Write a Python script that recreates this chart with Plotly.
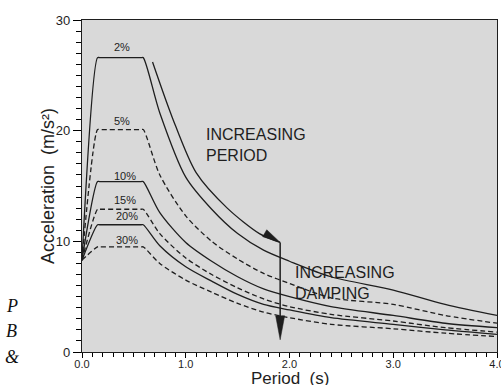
import math
import plotly.graph_objects as go

# ---------------- data ----------------
period_s = [0.0, 0.15, 0.17, 0.57, 0.59, 0.75, 1.0, 1.25, 1.5, 1.75, 2.0, 2.4, 3.0, 3.5, 4.0]
acc_2pct = [8.3, 26.6, 26.6, 26.6, 26.6, 21.6, 15.8, 12.9, 10.7, 9.2, 8.2, 6.8, 5.6, 4.3, 3.3]
acc_5pct = [8.3, 20.1, 20.1, 20.1, 20.1, 16.0, 12.3, 10.0, 8.4, 7.1, 6.2, 4.9, 4.3, 3.3, 2.6]
acc_10pct = [8.3, 15.4, 15.4, 15.4, 15.4, 12.6, 9.9, 8.2, 6.8, 5.7, 5.0, 4.1, 3.3, 2.6, 2.2]
acc_15pct = [8.3, 12.9, 12.9, 12.9, 12.9, 10.7, 8.5, 7.0, 5.8, 4.8, 4.1, 3.4, 2.8, 2.2, 1.8]
acc_20pct = [8.3, 11.5, 11.5, 11.5, 11.5, 9.6, 7.7, 6.4, 5.2, 4.3, 3.8, 3.1, 2.5, 2.0, 1.6]
acc_30pct = [8.3, 9.5, 9.5, 9.5, 9.5, 8.0, 6.5, 5.4, 4.4, 3.6, 3.1, 2.5, 2.1, 1.7, 1.4]

damping_labels = ["2%", "5%", "10%", "15%", "20%", "30%"]
label_period = [0.39, 0.39, 0.41, 0.41, 0.43, 0.43]
label_acc = [27.6, 20.9, 15.9, 13.7, 12.3, 10.1]

# "increasing period" guide curve and "increasing damping" arrow
guide_T = [0.68, 0.87, 1.1, 1.4, 1.71, 1.91]
guide_A = [26.2, 21.2, 16.2, 13.0, 10.7, 9.9]
damping_arrow_bottom = 1.1

y_dtick = 10
y_minor_dtick = 1
x_dtick = 1
x_minor_dtick = 0.1

# ---------------- figure ----------------
W, H = 501, 385
ML, MR, MT, MB = 82, 4, 20, 33
X_RANGE = [0, 4]
Y_RANGE = [0, 30]
PW, PH = W - ML - MR, H - MT - MB
sx = PW / (X_RANGE[1] - X_RANGE[0])
sy = PH / (Y_RANGE[1] - Y_RANGE[0])

INK = "#1e1e1e"
FONT = "Liberation Sans, Arial, Helvetica, sans-serif"
SERIF = "Liberation Serif, Times New Roman, serif"

fig = go.Figure()
series = [acc_2pct, acc_5pct, acc_10pct, acc_15pct, acc_20pct, acc_30pct]
for i, (name, acc) in enumerate(zip(damping_labels, series)):
    dashed = i % 2 == 1
    fig.add_trace(go.Scatter(
        x=period_s, y=acc, mode="lines", name=name,
        line=dict(color=INK, width=1.3, dash="5px,3px" if dashed else "solid",
                  shape="spline", smoothing=0.8),
        hoverinfo="skip"))

fig.add_trace(go.Scatter(
    x=guide_T, y=guide_A, mode="lines", line=dict(color=INK, width=1.3, shape="spline", smoothing=0.8),
    hoverinfo="skip", showlegend=False))
fig.add_trace(go.Scatter(
    x=[guide_T[-1], guide_T[-1]], y=[guide_A[-1], damping_arrow_bottom + 1.0], mode="lines",
    line=dict(color=INK, width=1.5), hoverinfo="skip", showlegend=False))
# empty trace that carries the overlay axes used for the minor ticks
fig.add_trace(go.Scatter(x=[], y=[], xaxis="x2", yaxis="y2", mode="lines",
                         hoverinfo="skip", showlegend=False))


def head_path(dx, dy, length, width):
    n = math.hypot(dx, dy)
    ux, uy = dx / n, dy / n
    px_, py_ = -uy, ux
    bx, by = -ux * length, -uy * length
    p1 = (bx + px_ * width / 2, by + py_ * width / 2)
    p2 = (bx - px_ * width / 2, by - py_ * width / 2)
    return f"M0,0L{p1[0]:.2f},{p1[1]:.2f}L{p2[0]:.2f},{p2[1]:.2f}Z"


gdx = (guide_T[-1] - guide_T[-2]) * sx
gdy = (guide_A[-1] - guide_A[-2]) * sy
shapes = [
    dict(type="path", xref="x", yref="y", xsizemode="pixel", ysizemode="pixel",
         xanchor=guide_T[-1], yanchor=guide_A[-1],
         path=head_path(gdx, gdy * 1.4, 18, 8), fillcolor=INK, line=dict(color=INK, width=0.5)),
    dict(type="path", xref="x", yref="y", xsizemode="pixel", ysizemode="pixel",
         xanchor=guide_T[-1], yanchor=damping_arrow_bottom,
         path=head_path(0, -1, 24, 9), fillcolor=INK, line=dict(color=INK, width=0.5)),
]

annotations = []
for txt, xt, yt in zip(damping_labels, label_period, label_acc):
    annotations.append(dict(x=xt, y=yt, xref="x", yref="y", text=txt, showarrow=False,
                            font=dict(size=11, color=INK, family=FONT)))

annotations.append(dict(x=1.18, y=18.7, xref="x", yref="y", xanchor="left", yanchor="middle",
                        text="INCREASING<br>PERIOD", align="left", showarrow=False,
                        font=dict(size=16, color=INK, family=FONT)))
annotations.append(dict(x=2.03, y=6.2, xref="x", yref="y", xanchor="left", yanchor="middle",
                        text="INCREASING<br>DAMPING", align="left", showarrow=False,
                        font=dict(size=16, color=INK, family=FONT)))

# axis titles
annotations.append(dict(x=0.5, y=-(378.5 - (H - MB)) / PH, xref="paper", yref="paper",
                        xanchor="center", yanchor="middle", text="Period  (s)", showarrow=False,
                        font=dict(size=17, color=INK, family=FONT)))
annotations.append(dict(x=(48 - ML) / PW, y=0.5, xref="paper", yref="paper", textangle=-90,
                        xanchor="center", yanchor="middle", text="Acceleration  (m/s²)",
                        showarrow=False, font=dict(size=18, color=INK, family=FONT)))

# stray page letters at the left margin of the scan
for letter, yp in zip(["P", "B", "&amp;"], [0.14, 0.064, -0.014]):
    annotations.append(dict(x=-0.169, y=yp, xref="paper", yref="paper", text=f"<i>{letter}</i>",
                            xanchor="center", yanchor="middle",
                            showarrow=False, font=dict(size=18, color="#111", family=SERIF)))

fig.update_layout(
    width=W, height=H, margin=dict(l=ML, r=MR, t=MT, b=MB),
    plot_bgcolor="#d9d9d9", paper_bgcolor="white", showlegend=False,
    font=dict(family=FONT, color=INK),
    shapes=shapes, annotations=annotations,
    xaxis=dict(
        range=X_RANGE, tickmode="linear", tick0=0, dtick=x_dtick, tickformat=".1f",
        ticks="outside", ticklen=5, tickwidth=1.2, tickcolor="#000000", ticklabelstandoff=-3,
        showline=True, linecolor=INK, linewidth=1.3, mirror=True,
        showgrid=False, zeroline=False, automargin=False, ticklabeloverflow="allow",
        tickfont=dict(size=11, family=FONT, color=INK),
    ),
    yaxis=dict(
        range=Y_RANGE, tickmode="linear", tick0=0, dtick=y_dtick,
        ticks="outside", ticklen=8, tickwidth=1.2, tickcolor="#000000",
        showline=True, linecolor=INK, linewidth=1.3, mirror=True,
        showgrid=False, zeroline=False, automargin=False, ticklabeloverflow="allow",
        tickfont=dict(size=13, family=FONT, color=INK),
    ),
    xaxis2=dict(
        overlaying="x", anchor="y", side="bottom", matches="x",
        tickmode="linear", tick0=0, dtick=x_minor_dtick,
        ticks="outside", ticklen=4, tickwidth=1, tickcolor="#000000",
        showticklabels=False, showline=False, showgrid=False, zeroline=False,
    ),
    yaxis2=dict(
        overlaying="y", anchor="x", side="left", matches="y",
        tickmode="linear", tick0=0, dtick=y_minor_dtick,
        ticks="outside", ticklen=5, tickwidth=1, tickcolor="#000000",
        showticklabels=False, showline=False, showgrid=False, zeroline=False,
    ),
)

fig.write_html("out.html")
